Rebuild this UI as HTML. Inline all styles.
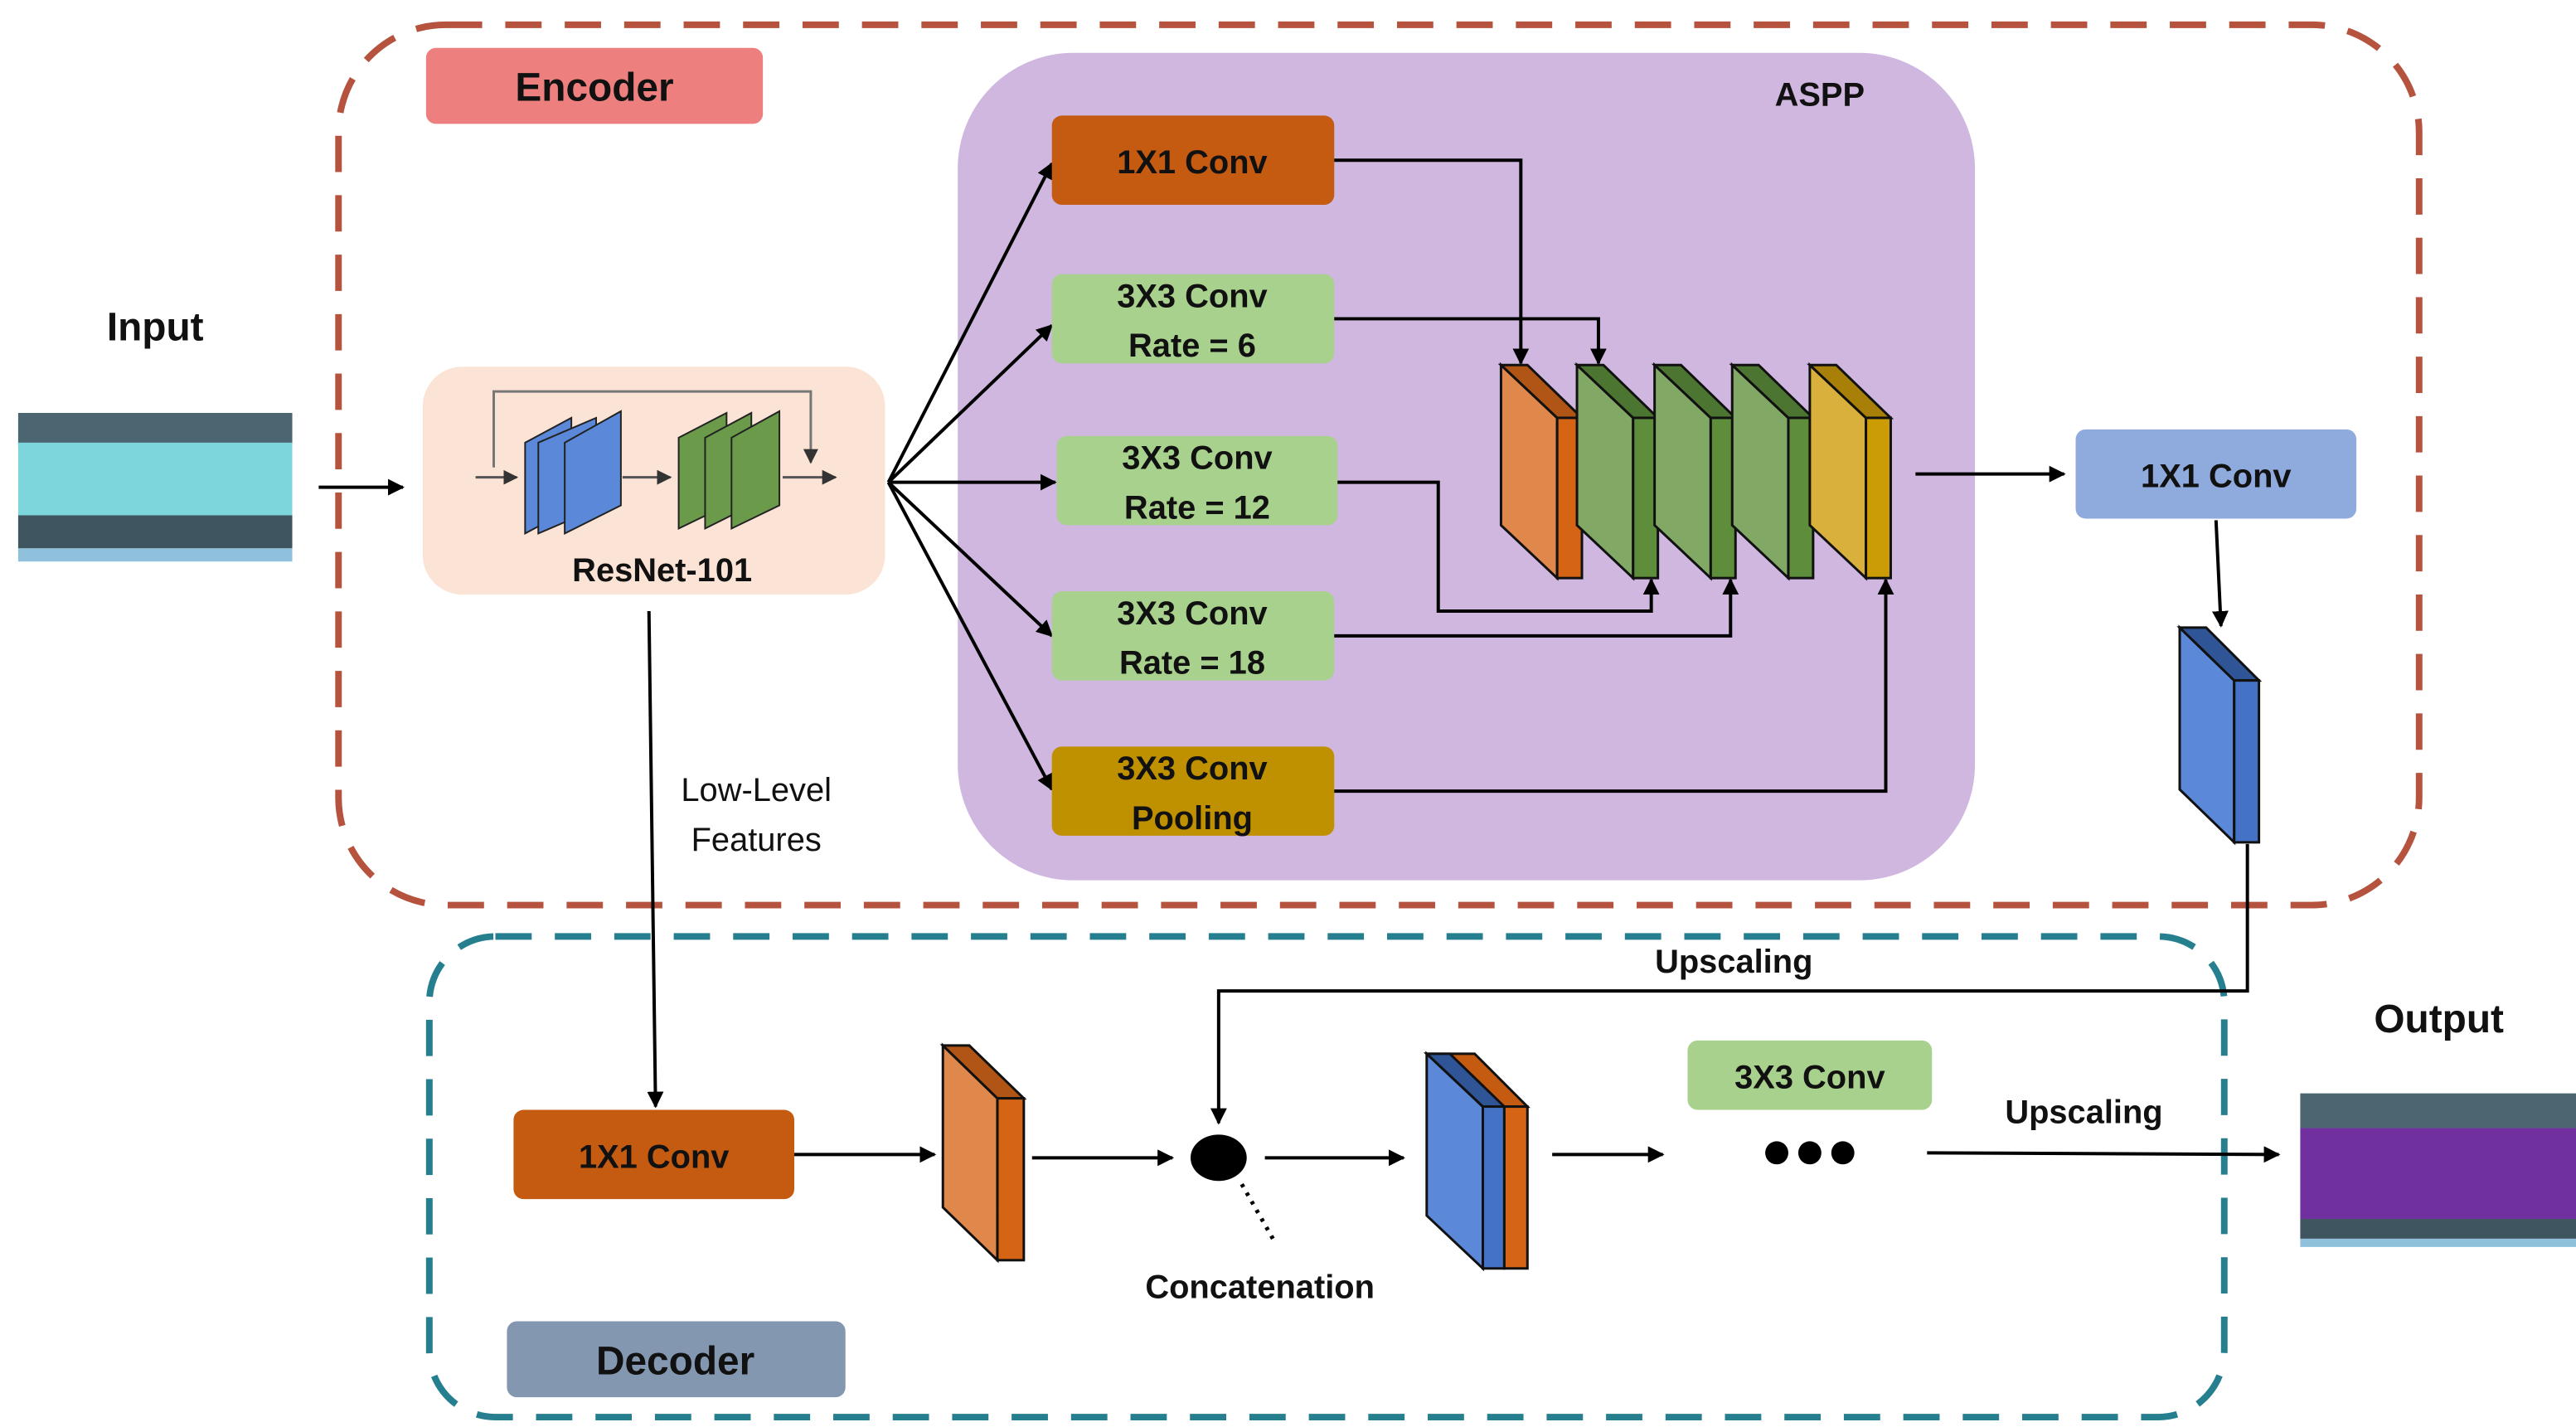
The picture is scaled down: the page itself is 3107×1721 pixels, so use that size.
<!DOCTYPE html>
<html><head><meta charset="utf-8"><style>
html,body{margin:0;padding:0;background:#fff}
svg{display:block}
text{font-family:"Liberation Sans",sans-serif;font-weight:bold;fill:#111}
</style></head><body>
<svg width="3107" height="1721" viewBox="0 0 1560 864" preserveAspectRatio="none" xmlns="http://www.w3.org/2000/svg">
<defs>
<marker id="a" viewBox="0 0 10 10" refX="9" refY="5" markerWidth="5" markerHeight="5" orient="auto"><path d="M0,0L10,5L0,10z" fill="#000"/></marker>
<marker id="s" viewBox="0 0 10 10" refX="9" refY="5" markerWidth="6" markerHeight="6" orient="auto"><path d="M0,0L10,5L0,10z" fill="#333"/></marker>
</defs>
<!-- containers -->
<rect x="205" y="15" width="1260" height="533" rx="65" fill="none" stroke="#b5533f" stroke-width="4" stroke-dasharray="22 14"/>
<rect x="260" y="567" width="1087" height="291" rx="40" fill="none" stroke="#267f8f" stroke-width="4" stroke-dasharray="22 14"/>
<rect x="580" y="32" width="616" height="501" rx="70" fill="#cfb7e0"/>
<text x="1102" y="64" font-size="20" text-anchor="middle">ASPP</text>
<rect x="258" y="29" width="204" height="46" rx="6" fill="#ee7f7f"/>
<text x="360" y="61" font-size="24" text-anchor="middle">Encoder</text>
<rect x="307" y="800" width="205" height="46" rx="6" fill="#8497b0"/>
<text x="409" y="832" font-size="24" text-anchor="middle">Decoder</text>
<!-- input/output -->
<text x="94" y="206" font-size="24" text-anchor="middle">Input</text>
<rect x="11" y="250" width="166" height="20" fill="#4b6670"/>
<rect x="11" y="268" width="166" height="44" fill="#7cd6dc"/>
<rect x="11" y="312" width="166" height="20" fill="#3f5560"/>
<rect x="11" y="332" width="166" height="8" fill="#8fc0dc"/>
<text x="1477" y="625" font-size="24" text-anchor="middle">Output</text>
<rect x="1393" y="662" width="167" height="21" fill="#4b6670"/>
<rect x="1393" y="683" width="167" height="55" fill="#7030a0"/>
<rect x="1393" y="738" width="167" height="12" fill="#3f5560"/>
<rect x="1393" y="750" width="167" height="5" fill="#8fc0dc"/>
<line x1="193" y1="295" x2="244" y2="295" stroke="#000" stroke-width="2" marker-end="url(#a)"/>
<!-- ResNet -->
<rect x="256" y="222" width="280" height="138" rx="24" fill="#fbe4d5"/>
<path d="M299,283V237H491V280" fill="none" stroke="#777" stroke-width="1.5" marker-end="url(#s)"/>
<line x1="288" y1="289" x2="313" y2="289" stroke="#555" stroke-width="1.5" marker-end="url(#s)"/>
<g fill="#5b88d9" stroke="#222" stroke-width="1">
<polygon points="318,268 346,253 346,308 318,323"/><polygon points="326,268 361,253 361,308 326,323"/><polygon points="342,268 376,249 376,306 342,323"/></g>
<line x1="377" y1="289" x2="406" y2="289" stroke="#555" stroke-width="1.5" marker-end="url(#s)"/>
<g fill="#6a9a4a" stroke="#222" stroke-width="1">
<polygon points="411,265 440,250 440,306 411,320"/><polygon points="427,265 455,250 455,306 427,320"/><polygon points="443,265 472,249 472,306 443,320"/></g>
<line x1="474" y1="289" x2="506" y2="289" stroke="#555" stroke-width="1.5" marker-end="url(#s)"/>
<text x="401" y="352" font-size="20" text-anchor="middle">ResNet-101</text>
<!-- fan -->
<g stroke="#000" stroke-width="2" fill="none" marker-end="url(#a)">
<line x1="538" y1="292" x2="637" y2="99"/><line x1="538" y1="292" x2="637" y2="197"/><line x1="538" y1="292" x2="639" y2="292"/><line x1="538" y1="292" x2="637" y2="385"/><line x1="538" y1="292" x2="637" y2="478"/>
</g>
<!-- ASPP boxes -->
<rect x="637" y="70" width="171" height="54" rx="6" fill="#c55a11"/>
<text x="722" y="105" font-size="20" text-anchor="middle">1X1 Conv</text>
<rect x="637" y="166" width="171" height="54" rx="6" fill="#a9d18e"/>
<text x="722" y="186" font-size="20" text-anchor="middle"><tspan x="722" dy="0">3X3 Conv</tspan><tspan x="722" dy="30">Rate = 6</tspan></text>
<rect x="640" y="264" width="170" height="54" rx="6" fill="#a9d18e"/>
<text x="725" y="284" font-size="20" text-anchor="middle"><tspan x="725" dy="0">3X3 Conv</tspan><tspan x="725" dy="30">Rate = 12</tspan></text>
<rect x="637" y="358" width="171" height="54" rx="6" fill="#a9d18e"/>
<text x="722" y="378" font-size="20" text-anchor="middle"><tspan x="722" dy="0">3X3 Conv</tspan><tspan x="722" dy="30">Rate = 18</tspan></text>
<rect x="637" y="452" width="171" height="54" rx="6" fill="#bf9000"/>
<text x="722" y="472" font-size="20" text-anchor="middle"><tspan x="722" dy="0">3X3 Conv</tspan><tspan x="722" dy="30">Pooling</tspan></text>
<g stroke="#000" stroke-width="2" fill="none" marker-end="url(#a)">
<path d="M808,97H921V220"/><path d="M808,193H968V220"/><path d="M810,292H871V370H1000V351"/><path d="M808,385H1048V351"/><path d="M808,479H1142V351"/>
</g>
<!-- stack -->
<g stroke="#111" stroke-width="1.5">
<polygon points="909,221 943,253 943,350 909,318" fill="#e0874c"/><polygon points="909,221 925,221 958,253 943,253" fill="#b05515"/><rect x="943" y="253" width="15" height="97" fill="#d56414"/>
<polygon points="955,221 989,253 989,350 955,318" fill="#82a866"/><polygon points="955,221 971,221 1004,253 989,253" fill="#4b7530"/><rect x="989" y="253" width="15" height="97" fill="#5e8e3c"/>
<polygon points="1002,221 1036,253 1036,350 1002,318" fill="#82a866"/><polygon points="1002,221 1018,221 1051,253 1036,253" fill="#4b7530"/><rect x="1036" y="253" width="15" height="97" fill="#5e8e3c"/>
<polygon points="1049,221 1083,253 1083,350 1049,318" fill="#82a866"/><polygon points="1049,221 1065,221 1098,253 1083,253" fill="#4b7530"/><rect x="1083" y="253" width="15" height="97" fill="#5e8e3c"/>
<polygon points="1096,221 1130,253 1130,350 1096,318" fill="#dab03c"/><polygon points="1096,221 1112,221 1145,253 1130,253" fill="#a88008"/><rect x="1130" y="253" width="15" height="97" fill="#cc9c06"/>
</g>
<line x1="1160" y1="287" x2="1250" y2="287" stroke="#000" stroke-width="2" marker-end="url(#a)"/>
<rect x="1257" y="260" width="170" height="54" rx="6" fill="#8faadc"/>
<text x="1342" y="295" font-size="20" text-anchor="middle">1X1 Conv</text>
<line x1="1342" y1="315" x2="1345" y2="379" stroke="#000" stroke-width="2" marker-end="url(#a)"/>
<g stroke="#111" stroke-width="1.5">
<polygon points="1320,380 1353,412 1353,510 1320,478" fill="#5b88d9"/><polygon points="1320,380 1336,380 1368,412 1353,412" fill="#2f5597"/><rect x="1353" y="412" width="15" height="98" fill="#4472c4"/>
</g>
<path d="M1361,511V600H738V680" fill="none" stroke="#000" stroke-width="2" marker-end="url(#a)"/>
<text x="1050" y="589" font-size="20" text-anchor="middle">Upscaling</text>
<!-- low level -->
<line x1="393" y1="370" x2="397" y2="670" stroke="#000" stroke-width="2" marker-end="url(#a)"/>
<text x="458" y="485" font-size="20" font-weight="normal" style="font-weight:normal" text-anchor="middle">Low-Level</text>
<text x="458" y="515" font-size="20" style="font-weight:normal" text-anchor="middle">Features</text>
<!-- decoder -->
<rect x="311" y="672" width="170" height="54" rx="6" fill="#c55a11"/>
<text x="396" y="707" font-size="20" text-anchor="middle">1X1 Conv</text>
<line x1="481" y1="699" x2="566" y2="699" stroke="#000" stroke-width="2" marker-end="url(#a)"/>
<g stroke="#111" stroke-width="1.5">
<polygon points="571,633 604,665 604,763 571,731" fill="#e0874c"/><polygon points="571,633 587,633 620,665 604,665" fill="#b05515"/><rect x="604" y="665" width="16" height="98" fill="#d56414"/>
</g>
<line x1="625" y1="701" x2="710" y2="701" stroke="#000" stroke-width="2" marker-end="url(#a)"/>
<ellipse cx="738" cy="701" rx="17" ry="14" fill="#000"/>
<line x1="752" y1="717" x2="772" y2="752" stroke="#000" stroke-width="2.5" stroke-dasharray="2 4"/>
<text x="763" y="786" font-size="20" text-anchor="middle">Concatenation</text>
<line x1="766" y1="701" x2="850" y2="701" stroke="#000" stroke-width="2" marker-end="url(#a)"/>
<g stroke="#111" stroke-width="1.5">
<polygon points="864,638 898,670 898,768 864,736" fill="#5b88d9"/><polygon points="864,638 893,638 925,670 898,670" fill="#c55a11"/><polygon points="864,638 878,638 911,670 898,670" fill="#2f5597"/><rect x="898" y="670" width="13" height="98" fill="#4472c4"/><rect x="911" y="670" width="14" height="98" fill="#d56414"/>
</g>
<line x1="940" y1="699" x2="1007" y2="699" stroke="#000" stroke-width="2" marker-end="url(#a)"/>
<rect x="1022" y="630" width="148" height="42" rx="6" fill="#a9d18e"/>
<text x="1096" y="659" font-size="20" text-anchor="middle">3X3 Conv</text>
<circle cx="1076" cy="698" r="7" fill="#000"/><circle cx="1096" cy="698" r="7" fill="#000"/><circle cx="1116" cy="698" r="7" fill="#000"/>
<text x="1262" y="680" font-size="20" text-anchor="middle">Upscaling</text>
<line x1="1167" y1="698" x2="1380" y2="699" stroke="#000" stroke-width="2" marker-end="url(#a)"/>
</svg>
</body></html>
